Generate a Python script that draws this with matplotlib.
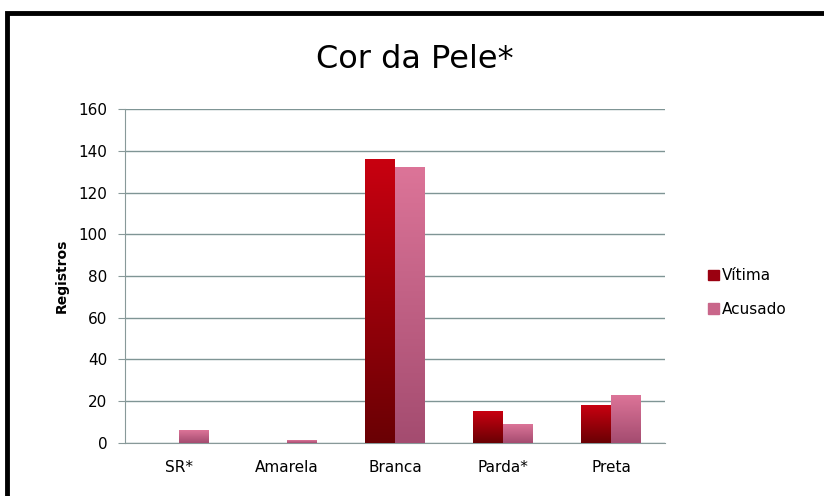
import numpy as np
import matplotlib.pyplot as plt
from matplotlib.patches import Rectangle
from matplotlib.colors import LinearSegmentedColormap

categorias = ["SR*", "Amarela", "Branca", "Parda*", "Preta"]
vitima = [0, 0, 136, 15, 18]
acusado = [6, 1, 132, 9, 23]
yticks = [0, 20, 40, 60, 80, 100, 120, 140, 160]

plt.rcParams['font.family'] = ['DejaVu Sans']

fig = plt.figure(figsize=(8.24, 4.96), dpi=100)
fig.patches.append(Rectangle((0.008, -0.05), 1.1, 1.024, transform=fig.transFigure,
                             fill=False, edgecolor='black', linewidth=3.5))

ax = fig.add_axes([0.152, 0.107, 0.655, 0.673])
x = np.arange(len(categorias))
w = 0.275
b1 = ax.bar(x - w / 2, vitima, w, color='#9a0010', label='Vítima', zorder=3)
b2 = ax.bar(x + w / 2, acusado, w, color='#c9668a', label='Acusado', zorder=3)

# gradient fill like the original (light at top, dark at bottom)
grad = np.linspace(0, 1, 100).reshape(-1, 1)
cm1 = LinearSegmentedColormap.from_list('v', ['#c80010', '#6a0004'])
cm2 = LinearSegmentedColormap.from_list('a', ['#dc7498', '#a44c70'])
for bars, cm in [(b1, cm1), (b2, cm2)]:
    for r in bars:
        h = r.get_height()
        if h <= 0:
            continue
        x0 = r.get_x()
        im = ax.imshow(grad, extent=(x0, x0 + r.get_width(), 0, h), origin='upper',
                       cmap=cm, aspect='auto', zorder=3.5)
        r.set_facecolor('none')
        r.set_edgecolor('none')

ax.set_xlim(-0.5, len(categorias) - 0.5)
ax.set_ylim(0, 160)
ax.set_yticks(yticks)
ax.set_xticks(x)
ax.set_xticklabels(categorias, fontsize=11)
ax.tick_params(axis='y', labelsize=11, length=5, color='#889999', pad=8)
ax.tick_params(axis='x', length=0, pad=12)
ax.grid(axis='y', color='#7f9595', linewidth=1, zorder=0)
for s in ['top', 'right']:
    ax.spines[s].set_visible(False)
ax.spines['left'].set_color('#889999')
ax.spines['bottom'].set_color('#889999')
ax.set_ylabel('Registros', fontsize=10, fontweight='bold', labelpad=7)

fig.text(0.503, 0.88, 'Cor da Pele*', ha='center', va='center', fontsize=23)

from matplotlib.patches import Patch
handles = [Patch(color='#9a0010'), Patch(color='#c9668a')]
fig.legend(handles, ['Vítima', 'Acusado'], loc='center left',
           bbox_to_anchor=(0.843, 0.41), frameon=False,
           fontsize=11, handlelength=0.7, handleheight=0.7, handletextpad=0.2,
           labelspacing=1.2)

fig.savefig('out.png', dpi=100)
